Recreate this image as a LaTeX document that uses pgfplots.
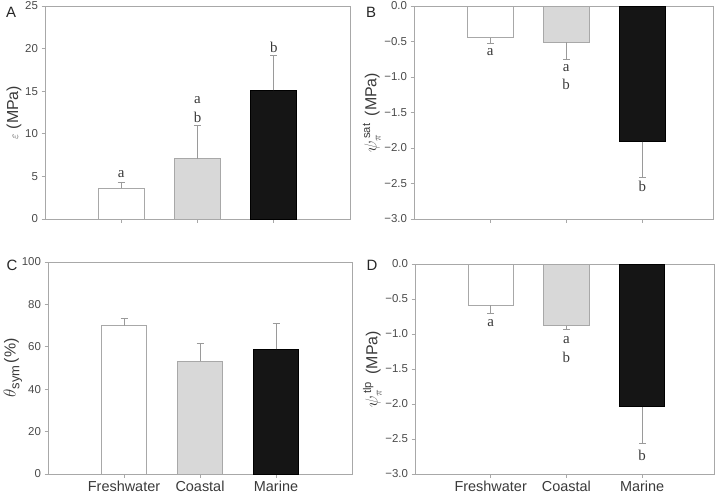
\documentclass[border=0pt]{standalone}
\usepackage{pgfplots}
\pgfplotsset{compat=1.18}
\usepackage{fontspec}
\setmainfont{Liberation Sans}
\newfontfamily\serifletters{Liberation Serif}
\definecolor{axcol}{HTML}{A8A8A8}
\definecolor{tickcol}{HTML}{4A4A4A}
\definecolor{labcol}{HTML}{3A3A3A}
\definecolor{errcol}{HTML}{9A9A9A}
\definecolor{lightbar}{HTML}{D8D8D8}
\definecolor{lightedge}{HTML}{A8A8A8}
\definecolor{darkbar}{HTML}{151515}
\tikzset{sig/.style={font=\serifletters\fontsize{15}{15}\selectfont, text=labcol, inner sep=0pt}}
\pgfplotsset{
  panel/.style={
    scale only axis, clip=false,
    axis line style={axcol, line width=0.8pt},
    tick style={axcol, line width=0.8pt},
    tick align=outside, major tick length=3.5bp,
    xtick pos=bottom, ytick pos=left,
    yticklabel style={font=\fontsize{11.5}{13}\selectfont, text=tickcol},
    xticklabel style={font=\fontsize{14.5}{16}\selectfont, text=labcol},
    /pgf/number format/assume math mode=true,
    ybar, bar shift=0pt, bar width=0.6,
    xtick={0,1,2},
    ylabel style={font=\fontsize{16}{18}\selectfont, text=labcol},
    ylabel shift=-3bp,
    error bars/error bar style={errcol, line width=0.7pt},
    error bars/error mark options={rotate=90, mark size=3.5bp, errcol, line width=0.7pt},
  },
  fresh/.style={fill=white, draw=lightedge, line width=0.8pt},
  coast/.style={fill=lightbar, draw=lightedge, line width=0.8pt},
  mar/.style={fill=darkbar, draw=black, line width=0.8pt},
  up/.style={error bars/.cd, y dir=plus, y explicit},
  down/.style={error bars/.cd, y dir=minus, y explicit},
}
\begin{document}
\begin{tikzpicture}
\useasboundingbox (0,0) rectangle (720bp,-501bp);
% Panel A
\begin{axis}[panel, at={(45bp,-219bp)}, anchor=south west, width=305bp, height=213bp,
  xmin=-1, xmax=3, ymin=0, ymax=25, ytick={0,5,10,15,20,25}, xticklabels={},
  ylabel={{\fontsize{12}{12}\selectfont$\varepsilon$} (MPa)}]
\addplot[fresh, up] coordinates {(0,3.6) +- (0,0.75)};
\addplot[coast, up] coordinates {(1,7.1) +- (0,3.85)};
\addplot[mar, up] coordinates {(2,15.1) +- (0,4.1)};
\node[sig] at (axis cs:0,5.3) {a};
\node[sig] at (axis cs:1,14.0) {a};
\node[sig] at (axis cs:1,11.9) {b};
\node[sig] at (axis cs:2,20.15) {b};
\end{axis}
% Panel B
\begin{axis}[panel, at={(414bp,-219bp)}, anchor=south west, width=299bp, height=213bp,
  xmin=-1, xmax=2.93, ymin=-3, ymax=0, ytick={-3,-2.5,-2,-1.5,-1,-0.5,0},
  yticklabels={−3.0,−2.5,−2.0,−1.5,−1.0,−0.5,0.0}, xticklabels={},
  ylabel={$\psi_{\pi}^{\,\mathrm{sat}}$\, (MPa)}]
\addplot[fresh, down] coordinates {(0,-0.445) +- (0,0.085)};
\addplot[coast, down] coordinates {(1,-0.51) +- (0,0.24)};
\addplot[mar, down] coordinates {(2,-1.91) +- (0,0.50)};
\node[sig] at (axis cs:0,-0.65) {a};
\node[sig] at (axis cs:1,-0.88) {a};
\node[sig] at (axis cs:1,-1.11) {b};
\node[sig] at (axis cs:2,-2.54) {b};
\end{axis}
% Panel C
\begin{axis}[panel, at={(48bp,-474bp)}, anchor=south west, width=304bp, height=212bp,
  xmin=-1, xmax=3, ymin=0, ymax=100, ytick={0,20,40,60,80,100},
  xticklabels={Freshwater,Coastal,Marine}, ylabel shift=-7bp,
  ylabel={$\theta$\raisebox{-0.45ex}{\fontsize{13}{13}\selectfont sym}\,(\%)}]
\addplot[fresh, up] coordinates {(0,69.9) +- (0,3.5)};
\addplot[coast, up] coordinates {(1,53.1) +- (0,8.3)};
\addplot[mar, up] coordinates {(2,58.8) +- (0,12.2)};
\end{axis}
% Panel D
\begin{axis}[panel, at={(415bp,-474bp)}, anchor=south west, width=299bp, height=210bp,
  xmin=-1, xmax=2.95, ymin=-3, ymax=0, ytick={-3,-2.5,-2,-1.5,-1,-0.5,0},
  yticklabels={−3.0,−2.5,−2.0,−1.5,−1.0,−0.5,0.0},
  xticklabels={Freshwater,Coastal,Marine},
  ylabel={$\psi_{\pi}^{\,\mathrm{tlp}}$\, (MPa)}]
\addplot[fresh, down] coordinates {(0,-0.59) +- (0,0.11)};
\addplot[coast, down] coordinates {(1,-0.88) +- (0,0.05)};
\addplot[mar, down] coordinates {(2,-2.04) +- (0,0.52)};
\node[sig] at (axis cs:0,-0.84) {a};
\node[sig] at (axis cs:1,-1.09) {a};
\node[sig] at (axis cs:1,-1.34) {b};
\node[sig] at (axis cs:2,-2.73) {b};
\end{axis}
% panel letters
\node[font=\fontsize{15}{15}\selectfont, text=black!85] at (11bp,-12bp) {A};
\node[font=\fontsize{15}{15}\selectfont, text=black!85] at (371bp,-12bp) {B};
\node[font=\fontsize{15}{15}\selectfont, text=black!85] at (12bp,-265bp) {C};
\node[font=\fontsize{15}{15}\selectfont, text=black!85] at (372bp,-265bp) {D};
\end{tikzpicture}
\end{document}
